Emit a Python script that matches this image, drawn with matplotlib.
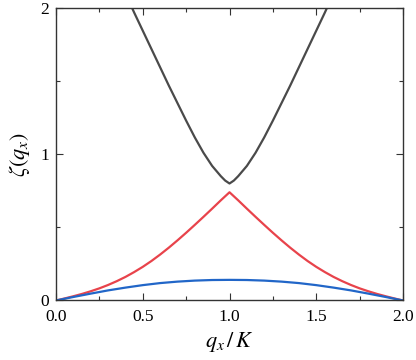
import matplotlib
matplotlib.use("Agg")
import matplotlib.pyplot as plt
from matplotlib.ticker import MultipleLocator

plt.rcParams['font.family'] = ['Liberation Serif', 'DejaVu Serif']
plt.rcParams['mathtext.fontset'] = 'stix'

# upper (gray) branch
q_gray = [0.40, 0.45, 0.50, 0.55, 0.60, 0.65, 0.70, 0.75, 0.80, 0.85, 0.90, 0.95, 0.975, 1.00,
          1.025, 1.05, 1.10, 1.15, 1.20, 1.25, 1.30, 1.35, 1.40, 1.45, 1.50, 1.55, 1.60]
z_gray = [2.100, 1.970, 1.845, 1.720, 1.595, 1.470, 1.350, 1.230, 1.115, 1.010, 0.920, 0.850, 0.820, 0.800,
          0.820, 0.850, 0.920, 1.010, 1.115, 1.230, 1.350, 1.470, 1.595, 1.720, 1.845, 1.970, 2.100]

# middle (red) branch
q_red = [0.00, 0.05, 0.10, 0.15, 0.20, 0.25, 0.30, 0.35, 0.40, 0.45, 0.50, 0.55, 0.60, 0.65, 0.70,
         0.75, 0.80, 0.85, 0.90, 0.95, 1.00, 1.05, 1.10, 1.15, 1.20, 1.25, 1.30, 1.35, 1.40, 1.45,
         1.50, 1.55, 1.60, 1.65, 1.70, 1.75, 1.80, 1.85, 1.90, 1.95, 2.00]
z_red = [0.000, 0.014, 0.029, 0.045, 0.063, 0.083, 0.106, 0.132, 0.161, 0.194, 0.230, 0.270, 0.314,
         0.361, 0.411, 0.463, 0.517, 0.572, 0.628, 0.685, 0.740, 0.685, 0.628, 0.572, 0.517, 0.463,
         0.411, 0.361, 0.314, 0.270, 0.230, 0.194, 0.161, 0.132, 0.106, 0.083, 0.063, 0.045, 0.029,
         0.014, 0.000]

# lower (blue) branch
q_blue = [0.0, 0.1, 0.2, 0.3, 0.4, 0.5, 0.6, 0.7, 0.8, 0.9, 1.0, 1.1, 1.2, 1.3, 1.4, 1.5, 1.6, 1.7,
          1.8, 1.9, 2.0]
z_blue = [0.000, 0.024, 0.047, 0.069, 0.088, 0.105, 0.119, 0.129, 0.136, 0.140, 0.141, 0.140, 0.136,
          0.129, 0.119, 0.105, 0.088, 0.069, 0.047, 0.024, 0.000]

fig = plt.figure(figsize=(4.16, 3.60), dpi=100)
ax = fig.add_axes([0.1346, 0.1653, 0.8342, 0.8125])

ax.plot(q_gray, z_gray, color='#4a4a4a', lw=1.6, solid_joinstyle='round')
ax.plot(q_red, z_red, color='#e8434b', lw=1.6, solid_joinstyle='round')
ax.plot(q_blue, z_blue, color='#2166c8', lw=1.6, solid_joinstyle='round')

ax.set_xlim(0, 2)
ax.set_ylim(0, 2)
ax.xaxis.set_minor_locator(MultipleLocator(0.25))
ax.yaxis.set_minor_locator(MultipleLocator(0.5))
ax.set_xticks([0, 0.5, 1.0, 1.5, 2.0])
ax.set_xticklabels(['0.0', '0.5', '1.0', '1.5', '2.0'])
ax.set_yticks([0, 1, 2])
ax.set_yticklabels(['0', '1', '2'])

ax.tick_params(which='both', direction='in', top=True, right=True, labelsize=12.5,
               color='#333333', width=0.8)
ax.tick_params(axis='x', pad=6)
ax.tick_params(axis='y', pad=5)
ax.tick_params(which='major', length=5)
ax.tick_params(which='minor', length=3)
for s in ax.spines.values():
    s.set_linewidth(1.0)
    s.set_color('#333333')

ax.set_xlabel(r'$q_x\,/\,K$', fontsize=16, labelpad=4)
ax.set_ylabel(r'$\zeta(q_x)$', fontsize=16, labelpad=6)

fig.savefig('out.png', dpi=100)
